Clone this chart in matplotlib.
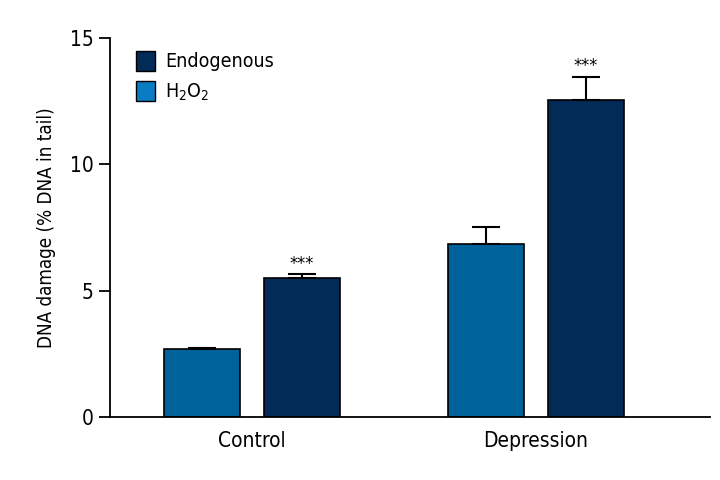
import matplotlib
matplotlib.use("Agg")
import matplotlib.pyplot as plt
from matplotlib.patches import Patch

plt.rcParams['font.family'] = ['Liberation Sans Narrow', 'DejaVu Sans']
plt.rcParams['font.stretch'] = 'condensed'
plt.rcParams['mathtext.fontset'] = 'custom'
plt.rcParams['mathtext.rm'] = 'DejaVu Sans:stretch=condensed'

grupos = ["Control", "Depression"]
h2o2 = [2.68, 6.85]
h2o2_err = [0.04, 0.67]
endogeno = [5.5, 12.55]
endogeno_err = [0.17, 0.92]
signif = ["***", "***"]

color_claro = "#00629b"
color_oscuro = "#032b57"
color_leyenda_claro = "#0a7cc4"

fig = plt.figure(figsize=(7.2, 4.8), dpi=100)
ax = fig.add_axes([0.1528, 0.131, 0.833, 0.79])

pos = range(len(grupos))
ancho = 0.268
desp = 0.176
xs_claro = [p - desp for p in pos]
xs_oscuro = [p + desp for p in pos]

err_kw = dict(elinewidth=1.5, capthick=1.5, capsize=10)
ax.bar(xs_claro, h2o2, ancho, color=color_claro, edgecolor="black", linewidth=1.2,
       yerr=[[0, 0], h2o2_err], error_kw=err_kw, zorder=2)
ax.bar(xs_oscuro, endogeno, ancho, color=color_oscuro, edgecolor="black", linewidth=1.2,
       yerr=[[0, 0], endogeno_err], error_kw=err_kw, zorder=2)

for x, v, e, s in zip(xs_oscuro, endogeno, endogeno_err, signif):
    ax.text(x, v + e + 0.05, s, ha="center", va="bottom", fontsize=13)

ax.set_xlim(-0.5, 1.613)
ax.set_ylim(0, 15)
ax.set_yticks([0, 5, 10, 15])
ax.set_xticks(list(pos))
ax.set_xticklabels(grupos, fontsize=15)
ax.tick_params(axis="x", length=0, pad=10)
ax.tick_params(axis="y", length=8, width=1.3, labelsize=15, pad=4)
ax.set_ylabel("DNA damage (% DNA in tail)", fontsize=13.5, labelpad=10)

for lado in ["top", "right"]:
    ax.spines[lado].set_visible(False)
for lado in ["left", "bottom"]:
    ax.spines[lado].set_linewidth(1.3)

manijas = [Patch(facecolor=color_oscuro, edgecolor="black"),
           Patch(facecolor=color_leyenda_claro, edgecolor="black")]
ax.legend(manijas, ["Endogenous", r"$\mathregular{H_2O_2}$"], loc="upper left",
          bbox_to_anchor=(0.014, 1.012), frameon=False, fontsize=14,
          handlelength=1.0, handleheight=1.2, handletextpad=0.5, labelspacing=0.5)

fig.savefig("out.png", dpi=100)
